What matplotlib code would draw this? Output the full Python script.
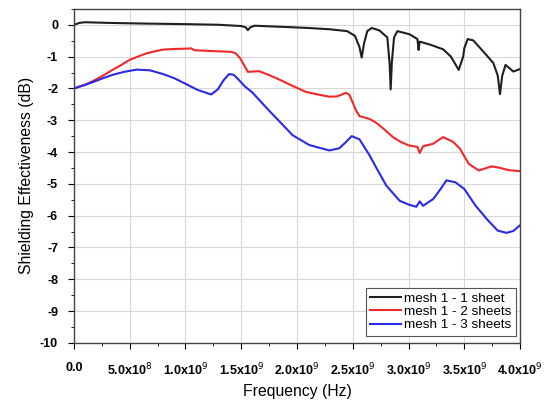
import matplotlib
matplotlib.use('Agg')
import matplotlib.pyplot as plt
from matplotlib.ticker import MultipleLocator

plt.rcParams['font.family'] = ['Liberation Sans', 'DejaVu Sans']

# frequencies in units of 1e9 Hz, SE in dB
f_1 = [0.0, 0.05, 0.1, 0.3, 0.6, 1.0, 1.3, 1.5, 1.54, 1.56, 1.58, 1.62, 1.9, 2.1,
       2.29, 2.45, 2.52, 2.56, 2.58, 2.60, 2.63, 2.67, 2.74, 2.81, 2.83, 2.84,
       2.85, 2.87, 2.9, 3.01, 3.08, 3.09, 3.10, 3.19, 3.31, 3.38, 3.45, 3.49,
       3.5, 3.53, 3.58, 3.67, 3.76, 3.8, 3.82, 3.84, 3.87, 3.94, 4.0]
se_1 = [0.0, 0.06, 0.08, 0.06, 0.04, 0.02, 0.0, -0.04, -0.08, -0.17, -0.08, -0.03,
        -0.07, -0.1, -0.14, -0.2, -0.35, -0.7, -1.03, -0.6, -0.2, -0.1, -0.18,
        -0.4, -1.2, -2.03, -1.2, -0.4, -0.2, -0.3, -0.45, -0.79, -0.53, -0.62,
        -0.77, -1.0, -1.42, -1.0, -0.74, -0.45, -0.49, -0.84, -1.2, -1.6, -2.18,
        -1.6, -1.26, -1.47, -1.39]

f_2 = [0.0, 0.1, 0.17, 0.26, 0.35, 0.43, 0.5, 0.58, 0.65, 0.73, 0.8, 0.9, 1.02,
       1.05, 1.08, 1.26, 1.41, 1.45, 1.49, 1.53, 1.56, 1.6, 1.66, 1.75, 1.84,
       1.96, 2.08, 2.2, 2.29, 2.36, 2.44, 2.47, 2.5, 2.53, 2.56, 2.65, 2.71,
       2.78, 2.86, 2.93, 3.0, 3.08, 3.1, 3.13, 3.22, 3.31, 3.4, 3.46, 3.54, 3.63,
       3.7, 3.75, 3.81, 3.9, 4.0]
se_2 = [-2.0, -1.88, -1.77, -1.6, -1.41, -1.25, -1.10, -0.99, -0.90, -0.83, -0.78,
        -0.76, -0.75, -0.74, -0.80, -0.83, -0.85, -0.9, -1.05, -1.3, -1.48, -1.47,
        -1.46, -1.58, -1.72, -1.92, -2.11, -2.2, -2.26, -2.25, -2.14, -2.2, -2.45,
        -2.7, -2.87, -2.96, -3.08, -3.28, -3.53, -3.68, -3.79, -3.84, -4.03,
        -3.82, -3.74, -3.53, -3.68, -3.89, -4.37, -4.58, -4.5, -4.45, -4.49,
        -4.57, -4.6]

f_3 = [0.0, 0.1, 0.17, 0.26, 0.35, 0.45, 0.56, 0.68, 0.8, 0.9, 0.98, 1.11, 1.23,
       1.29, 1.34, 1.39, 1.43, 1.47, 1.53, 1.6, 1.75, 1.86, 1.96, 2.11, 2.29,
       2.38, 2.44, 2.49, 2.56, 2.65, 2.72, 2.8, 2.92, 3.0, 3.07, 3.1, 3.13, 3.22,
       3.28, 3.34, 3.42, 3.5, 3.6, 3.7, 3.8, 3.88, 3.94, 4.0]
se_3 = [-2.0, -1.89, -1.8, -1.68, -1.57, -1.48, -1.41, -1.43, -1.55, -1.68, -1.82,
        -2.05, -2.19, -2.03, -1.75, -1.55, -1.57, -1.70, -1.93, -2.13, -2.7, -3.1,
        -3.47, -3.78, -3.95, -3.88, -3.68, -3.5, -3.6, -4.1, -4.55, -5.05, -5.53,
        -5.65, -5.72, -5.55, -5.69, -5.48, -5.2, -4.89, -4.95, -5.16, -5.68, -6.1,
        -6.47, -6.54, -6.48, -6.3]

series_labels = ['mesh 1 - 1 sheet', 'mesh 1 - 2 sheets', 'mesh 1 - 3 sheets']
x_ticks = [0.0, 0.5, 1.0, 1.5, 2.0, 2.5, 3.0, 3.5, 4.0]
x_tick_labels = ['0.0', r'5.0x10$^{8}$', r'1.0x10$^{9}$', r'1.5x10$^{9}$',
                 r'2.0x10$^{9}$', r'2.5x10$^{9}$', r'3.0x10$^{9}$',
                 r'3.5x10$^{9}$', r'4.0x10$^{9}$']
y_ticks = list(range(-10, 1))

fig = plt.figure(figsize=(5.48, 4.03), dpi=100)
ax = fig.add_axes([0.135, 0.149, 0.814, 0.829])

ax.plot(f_1, se_1, color='#202020', lw=1.5, label=series_labels[0])
ax.plot(f_2, se_2, color='#f02828', lw=1.5, label=series_labels[1])
ax.plot(f_3, se_3, color='#2a2ae8', lw=1.5, label=series_labels[2])

ax.set_xlim(0, 4.0)
ax.set_ylim(-10, 0.5)
ax.set_xticks(x_ticks)
ax.set_xticklabels(x_tick_labels, fontweight='bold', fontsize=9)
ax.xaxis.set_minor_locator(MultipleLocator(0.25))
ax.set_yticks(y_ticks)
ax.set_yticklabels([str(v) for v in y_ticks], fontweight='bold', fontsize=9)
ax.yaxis.set_minor_locator(MultipleLocator(0.5))
ax.tick_params(axis='x', which='major', length=4, pad=9.5)
ax.tick_params(axis='y', which='major', length=4.5, pad=7)
ax.tick_params(which='minor', length=2.2)
ax.grid(True, which='major', color='#d8d8d8', lw=0.8)
ax.set_axisbelow(True)
for s in ax.spines.values():
    s.set_color('#444444')
    s.set_linewidth(1.0)

ax.set_xlabel('Frequency (Hz)', fontsize=11.3, labelpad=4)
ax.set_ylabel('Shielding Effectiveness (dB)', fontsize=11.3, labelpad=4)

leg = ax.legend(loc='lower right', bbox_to_anchor=(0.991, 0.021), borderaxespad=0,
                fontsize=9.7, handlelength=2.3, handletextpad=0.2,
                borderpad=0.35, labelspacing=0.05, fancybox=False, framealpha=1,
                edgecolor='#555555')
leg.get_frame().set_linewidth(0.8)

fig.savefig('out.png', dpi=100)
